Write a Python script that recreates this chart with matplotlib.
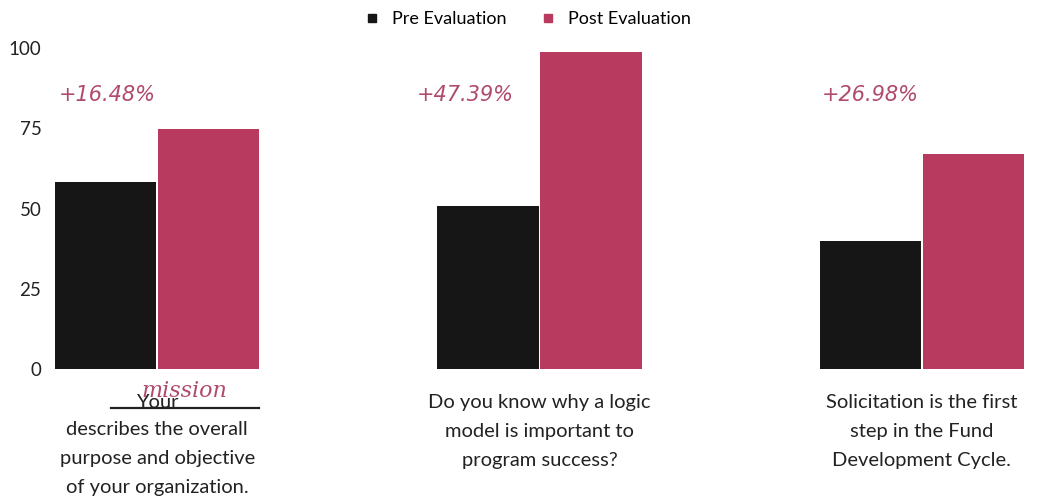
import numpy as np
import matplotlib.pyplot as plt
from matplotlib.lines import Line2D

categories = [
    "Your\ndescribes the overall\npurpose and objective\nof your organization.",
    "Do you know why a logic\nmodel is important to\nprogram success?",
    "Solicitation is the first\nstep in the Fund\nDevelopment Cycle.",
]
pre = [58.3, 50.8, 39.9]
post = [74.8, 98.8, 67.0]
changes = ["+16.48%", "+47.39%", "+26.98%"]
yticks = [0, 25, 50, 75, 100]

BLACK = "#161616"
PINK = "#B83A5E"
TEXT_PINK = "#B04A6C"

plt.rcParams['font.family'] = ['Lato', 'DejaVu Sans']

fig = plt.figure(figsize=(10.38, 4.97), dpi=100)
ax = fig.add_axes([0.052, 0.2575, 0.9355, 0.6459])

x = np.arange(len(categories))
w = 0.265
ax.bar(x - 0.135, pre, w, color=BLACK, label="Pre Evaluation")
ax.bar(x + 0.135, post, w, color=PINK, label="Post Evaluation")

ax.set_xlim(-0.27, 2.27)
ax.set_ylim(0, 100)
ax.set_yticks(yticks)
ax.set_xticks([])
ax.tick_params(axis='y', length=0, pad=9, labelsize=13.5, labelcolor="#222222")
for s in ax.spines.values():
    s.set_visible(False)

# change annotations (nudged to sit where the reference has them)
nudge = [0.005, -0.06, 0.0]
for i, t in enumerate(changes):
    ax.text(x[i] - 0.135 + nudge[i], 85.5, t, ha='center', va='center', fontsize=15,
            color=TEXT_PINK, style='italic', family=['DejaVu Sans'], fontweight='light')

# category labels
for i, lab in enumerate(categories):
    if i == 0:
        lines = lab.split("\n")
        ax.text(x[i], -10.3, lines[0], ha='center', va='center', fontsize=14.5,
                color="#222222", clip_on=False)
        ax.plot([x[i] - 0.12, x[i] + 0.265], [-12.2, -12.2], color="#222222",
                lw=1.6, clip_on=False)
        ax.text(x[i] + 0.07, -7.0, "mission", ha='center', va='center', fontsize=16,
                color=TEXT_PINK, style='italic', family=['DejaVu Serif'], clip_on=False)
        ax.text(x[i], -16.3, "\n".join(lines[1:]), ha='center', va='top', fontsize=14.5,
                color="#222222", linespacing=1.85, clip_on=False)
    else:
        ax.text(x[i], -7.8, lab, ha='center', va='top', fontsize=14.5,
                color="#222222", linespacing=1.85, clip_on=False)

handles = [
    Line2D([], [], marker='s', ls='', color=BLACK, markersize=6, label="Pre Evaluation"),
    Line2D([], [], marker='s', ls='', color=PINK, markersize=6, label="Post Evaluation"),
]
fig.legend(handles=handles, loc='center', bbox_to_anchor=(0.503, 0.962), ncol=2,
           frameon=False, fontsize=13, handletextpad=0.1, columnspacing=1.3)

fig.savefig("out.png", dpi=100)
